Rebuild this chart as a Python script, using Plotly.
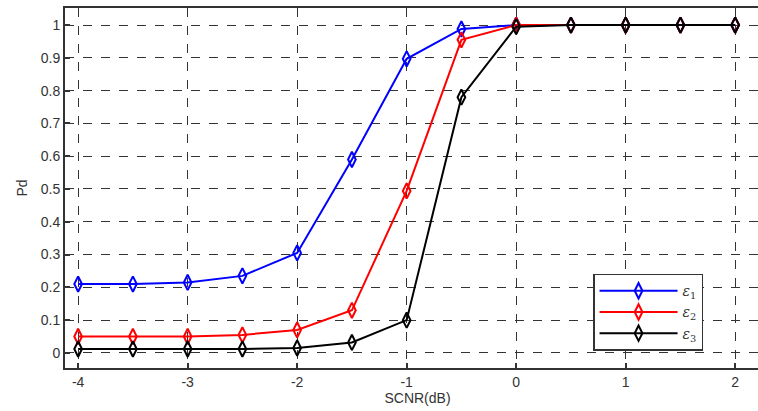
import plotly.graph_objects as go

snr_db = [-4, -3.5, -3, -2.5, -2, -1.5, -1, -0.5, 0, 0.5, 1, 1.5, 2]
pd_eps1 = [0.21, 0.21, 0.215, 0.235, 0.305, 0.59, 0.897, 0.988, 1.0, 1.0, 1.0, 1.0, 1.0]
pd_eps2 = [0.05, 0.05, 0.05, 0.055, 0.07, 0.13, 0.494, 0.955, 1.0, 1.0, 1.0, 1.0, 1.0]
pd_eps3 = [0.012, 0.012, 0.012, 0.012, 0.015, 0.032, 0.10, 0.78, 0.995, 1.0, 1.0, 1.0, 1.0]
series_names = ["<i>ε</i><sub>1</sub>", "<i>ε</i><sub>2</sub>", "<i>ε</i><sub>3</sub>"]
series_colors = ["#0000ff", "#ff0000", "#000000"]
x_ticks = [-4, -3, -2, -1, 0, 1, 2]
y_ticks = [0, 0.1, 0.2, 0.3, 0.4, 0.5, 0.6, 0.7, 0.8, 0.9, 1]
y_tick_text = ["0", "0.1", "0.2", "0.3", "0.4", "0.5", "0.6", "0.7", "0.8", "0.9", "1"]

fig = go.Figure()
for name, ys, col in zip(series_names, [pd_eps1, pd_eps2, pd_eps3], series_colors):
    fig.add_trace(go.Scatter(
        x=snr_db, y=ys, name=name, mode="lines+markers",
        line=dict(color=col, width=2),
        marker=dict(symbol="diamond-tall-open", size=11, color=col, line=dict(width=2, color=col)),
    ))

tick_font = dict(family="Liberation Sans, Arial", size=14, color="#333333")
axis_common = dict(
    showgrid=True, gridcolor="#333333", griddash="dash", gridwidth=1,
    showline=True, linecolor="#333333", linewidth=2, mirror=True,
    ticks="inside", ticklen=5, tickcolor="#333333", tickwidth=1.5,
    zeroline=False, tickfont=tick_font, automargin=False,
)

# the reference's plot box runs past the right edge of the picture
fig.update_layout(
    width=770, height=411,
    margin=dict(l=65, r=0, t=8, b=43),
    paper_bgcolor="white", plot_bgcolor="white",
    xaxis=dict(range=[-4.12, 2.318], tickvals=x_ticks, ticktext=[str(v) for v in x_ticks],
               title=dict(text="SCNR(dB)", standoff=2, font=dict(family="Liberation Sans, Arial", size=14, color="#333333")),
               **axis_common),
    yaxis=dict(range=[-0.046, 1.052], tickvals=y_ticks, ticktext=y_tick_text,
               title=dict(text="Pd", standoff=10, font=dict(family="Liberation Sans, Arial", size=14, color="#333333")),
               **axis_common),
    legend=dict(x=0.749, y=0.262, xanchor="left", yanchor="top",
                bgcolor="white", bordercolor="#333333", borderwidth=1.5,
                font=dict(family="DejaVu Serif, serif", size=14, color="#333333"),
                tracegroupgap=0, itemwidth=78),
    showlegend=True,
)

fig.write_html(
    "out.html",
    config={"displayModeBar": False},
    post_script="document.body.style.margin='0';document.body.style.overflow='hidden';",
)
